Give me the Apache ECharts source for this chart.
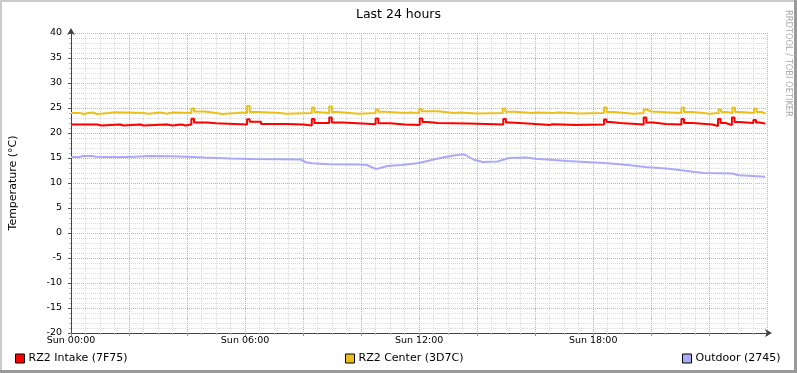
<!DOCTYPE html>
<html>
<head>
<meta charset="utf-8">
<script src="https://cdn.jsdelivr.net/npm/echarts@6/dist/echarts.min.js"></script>
<style>
html,body{margin:0;padding:0;background:#fff;}
#chart{width:797px;height:373px;}
</style>
</head>
<body>
<div id="chart"></div>
<script>
// ---- data (hour of day, °C) ----
const seriesNames = ['RZ2 Intake (7F75)', 'RZ2 Center (3D7C)', 'Outdoor (2745)'];
const xTickHours = [0, 6, 12, 18];
const yTicks = [-20, -15, -10, -5, 0, 5, 10, 15, 20, 25, 30, 35, 40];

const intake = [
  [0, 21.7], [0.9, 21.5], [1.05, 21.7], [1.7, 21.5], [1.8, 21.7], [2.4, 21.5], [2.5, 21.7],
  [3.3, 21.5], [3.5, 21.7], [3.8, 21.5], [3.95, 21.7], [4.15, 22.85], [4.24, 22.1], [4.7, 21.95],
  [5.0, 21.7], [6.07, 22.75], [6.16, 22.25], [6.55, 21.8], [7.4, 21.7], [8.0, 21.5], [8.3, 22.8],
  [8.39, 22.0], [8.9, 23.1], [8.99, 22.1], [9.36, 21.9], [10.05, 21.75], [10.5, 22.9], [10.59, 21.95],
  [11.0, 21.7], [11.5, 21.6], [12.02, 22.9], [12.11, 22.2], [12.31, 22.0], [12.65, 21.9], [13.68, 21.7],
  [14.9, 22.8], [14.99, 22.1], [15.15, 21.9], [15.74, 21.6], [16.5, 21.75], [16.6, 21.6], [17.4, 21.7],
  [18.37, 22.7], [18.46, 22.2], [18.6, 22.0], [18.93, 21.7], [19.74, 23.1], [19.83, 22.1], [20.06, 21.8],
  [20.5, 21.7], [21.04, 22.8], [21.13, 22.0], [21.43, 21.7], [22.11, 21.4], [22.3, 22.8], [22.39, 22.0],
  [22.56, 21.6], [22.78, 23.1], [22.87, 22.2], [23.04, 22.0], [23.52, 22.6], [23.61, 22.1], [23.73, 21.9],
  [23.93, 21.9]
];

const center = [
  [0, 24.0], [0.3, 23.8], [0.45, 24.0], [0.6, 24.1], [0.75, 23.8], [0.9, 24.0], [1.3, 24.15], [1.5, 24.0],
  [2.5, 23.85], [2.65, 24.0], [2.9, 24.1], [3.1, 23.85], [3.3, 24.1], [3.5, 24.0], [4.15, 24.9],
  [4.24, 24.3], [4.6, 24.0], [5.0, 23.8], [5.2, 24.0], [5.7, 24.1], [5.9, 24.0], [6.07, 25.4],
  [6.16, 24.2], [6.5, 24.0], [7.2, 23.85], [7.4, 24.0], [8.3, 25.1], [8.39, 24.2], [8.5, 24.0],
  [8.9, 25.3], [8.99, 24.2], [9.2, 24.0], [9.6, 23.85], [9.9, 24.0], [10.5, 24.7], [10.59, 24.25],
  [10.85, 24.0], [11.5, 24.1], [11.7, 24.0], [12.0, 24.8], [12.09, 24.35], [12.65, 24.0], [13.2, 24.1],
  [13.4, 23.9], [14.0, 24.0], [14.88, 24.9], [14.97, 24.25], [15.3, 24.0], [15.9, 24.1], [16.1, 24.0],
  [16.6, 24.1], [16.8, 24.0], [17.2, 23.9], [17.5, 24.0], [18.37, 25.1], [18.46, 24.2], [18.7, 24.0],
  [19.1, 23.85], [19.4, 24.0], [19.74, 24.7], [19.83, 24.3], [20.0, 24.0], [21.04, 25.1], [21.13, 24.2],
  [21.4, 24.0], [21.8, 23.85], [22.0, 24.0], [22.32, 24.7], [22.41, 24.2], [22.6, 24.0], [22.8, 25.1],
  [22.89, 24.2], [23.1, 24.0], [23.54, 24.9], [23.63, 24.2], [23.8, 23.9], [23.93, 23.9]
];

const outdoor = [
  [0, 15.2], [0.3, 15.2], [0.4, 15.4], [0.75, 15.4], [0.85, 15.25], [1.3, 15.2], [2.0, 15.2],
  [2.7, 15.4], [3.5, 15.35], [4.0, 15.25], [4.6, 15.1], [5.5, 14.9], [6.2, 14.8], [7.9, 14.7],
  [8.1, 14.15], [8.3, 13.95], [8.9, 13.75], [9.9, 13.7], [10.2, 13.6], [10.5, 12.8], [10.6, 12.9],
  [10.9, 13.4], [11.4, 13.6], [12.0, 14.0], [12.5, 14.7], [12.9, 15.2], [13.2, 15.5], [13.5, 15.75],
  [13.6, 15.6], [13.9, 14.6], [14.2, 14.2], [14.7, 14.3], [15.1, 15.0], [15.7, 15.1], [16.0, 14.85],
  [16.5, 14.65], [17.1, 14.4], [17.9, 14.15], [18.5, 13.95], [19.2, 13.6], [19.8, 13.2], [20.6, 12.85],
  [20.9, 12.65], [21.5, 12.2], [21.8, 12.0], [22.8, 11.9], [23.0, 11.55], [23.5, 11.4], [23.93, 11.25]
];

const colors = ['#ff0000', '#ebc01d', '#aaaaf8'];
const axisFont = { fontFamily: 'DejaVu Sans', fontSize: 9.5, color: '#000' };

const chart = echarts.init(document.getElementById('chart'), null, { renderer: 'canvas' });

function legendAt(name, left) {
  return {
    data: [name], left: left, top: 353, orient: 'horizontal', padding: 0,
    itemWidth: 9, itemHeight: 9, itemGap: 4, icon: 'rect', selectedMode: false,
    itemStyle: { borderColor: '#000', borderWidth: 1 },
    textStyle: { fontFamily: 'DejaVu Sans', fontSize: 11, color: '#000', padding: [0, 0, 0, -1] }
  };
}

const option = {
  backgroundColor: '#ffffff',
  animation: false,
  title: {
    text: 'Last 24 hours', left: 'center', top: 3,
    textStyle: { fontFamily: 'DejaVu Sans', fontSize: 12.5, fontWeight: 'normal', color: '#000' }
  },
  legend: [legendAt(seriesNames[0], 15), legendAt(seriesNames[1], 345), legendAt(seriesNames[2], 682)],
  grid: { left: 67, right: 30, top: 33, bottom: 40, containLabel: false },
  xAxis: {
    type: 'value', min: 0, max: 23.99, interval: 2,
    axisLine: { show: true, onZero: false, symbol: ['none', 'arrow'], symbolSize: [6, 7], symbolOffset: [0, 5],
      lineStyle: { color: '#4a4040', width: 1 } },
    axisTick: { show: true, length: 3, lineStyle: { color: '#e07070' } },
    minorTick: { show: true, splitNumber: 4, length: 2, lineStyle: { color: '#bbbbbb' } },
    splitLine: { show: true, lineStyle: { color: '#e8a0a0', type: [1, 1], width: 1 } },
    minorSplitLine: { show: true, lineStyle: { color: '#dadada', type: [1, 1], width: 1 } },
    axisLabel: Object.assign({}, axisFont, {
      margin: 3, showMaxLabel: false,
      formatter: function (v) {
        return xTickHours.indexOf(v) >= 0 ? 'Sun ' + String(v).padStart(2, '0') + ':00' : '';
      }
    })
  },
  yAxis: {
    type: 'value', min: yTicks[0], max: yTicks[yTicks.length - 1], interval: 5,
    name: 'Temperature (°C)', nameLocation: 'middle', nameGap: 52,
    nameTextStyle: { fontFamily: 'DejaVu Sans', fontSize: 11, color: '#000' },
    axisLine: { show: true, symbol: ['none', 'arrow'], symbolSize: [6, 7], symbolOffset: [0, 5],
      lineStyle: { color: '#4a4040', width: 1 } },
    axisTick: { show: true, length: 3, lineStyle: { color: '#555' } },
    minorTick: { show: true, splitNumber: 5, length: 2, lineStyle: { color: '#bbbbbb' } },
    splitLine: { show: true, lineStyle: { color: '#e8a0a0', type: [1, 1], width: 1 } },
    minorSplitLine: { show: true, lineStyle: { color: '#dadada', type: [1, 1], width: 1 } },
    axisLabel: Object.assign({}, axisFont, { margin: 9 })
  },
  graphic: [
    { type: 'rect', shape: { x: 0, y: 0, width: 797, height: 2 }, style: { fill: '#cbcbcb' }, silent: true },
    { type: 'rect', shape: { x: 0, y: 0, width: 2, height: 373 }, style: { fill: '#cbcbcb' }, silent: true },
    { type: 'rect', shape: { x: 794, y: 0, width: 3, height: 373 }, style: { fill: '#9a9a9a' }, silent: true },
    { type: 'rect', shape: { x: 0, y: 370, width: 797, height: 3 }, style: { fill: '#9a9a9a' }, silent: true },
    { type: 'text', x: 788, y: 10, rotation: -Math.PI / 2, silent: true,
      style: { text: 'RRDTOOL / TOBI OETIKER', fill: '#aaaaaa', font: '8.3px "DejaVu Sans"', textAlign: 'left', textVerticalAlign: 'middle' } }
  ],
  series: [
    { name: seriesNames[0], type: 'line', step: 'end', data: intake, showSymbol: false, symbol: 'none',
      itemStyle: { color: colors[0] }, lineStyle: { color: colors[0], width: 2 }, z: 4 },
    { name: seriesNames[1], type: 'line', step: 'end', data: center, showSymbol: false, symbol: 'none',
      itemStyle: { color: colors[1] }, lineStyle: { color: colors[1], width: 2 }, z: 3 },
    { name: seriesNames[2], type: 'line', data: outdoor, showSymbol: false, symbol: 'none',
      itemStyle: { color: colors[2] }, lineStyle: { color: colors[2], width: 2 }, z: 2 }
  ]
};
chart.setOption(option);
</script>
</body>
</html>
